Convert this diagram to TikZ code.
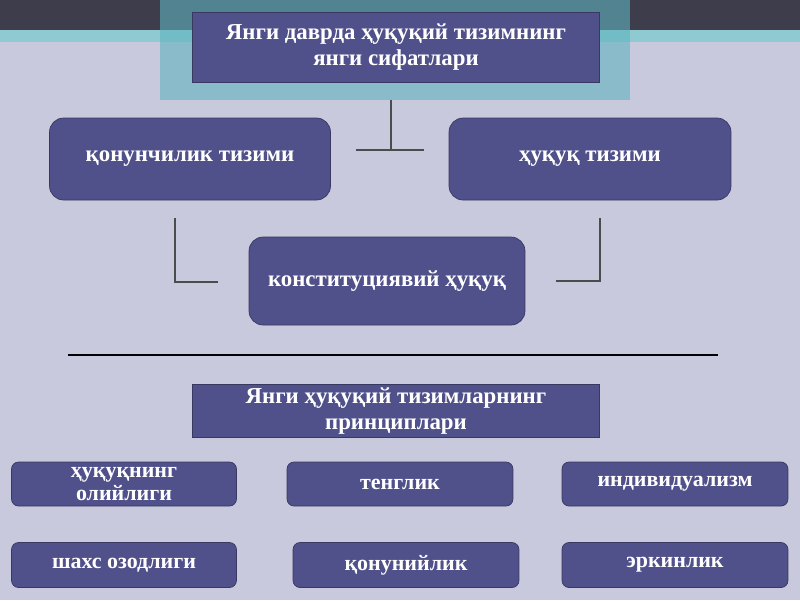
\documentclass[tikz,border=0pt]{standalone}
\usepackage{fontspec}
\setmainfont{Liberation Serif}
\usetikzlibrary{positioning}
\definecolor{boxfill}{HTML}{50508A}
\definecolor{bgfill}{HTML}{C9C9DD}
\definecolor{glowc}{HTML}{5FB3BE}
\definecolor{topband}{HTML}{3E3D4C}
\tikzset{
    block/.style={rectangle, draw=boxfill!70!black, fill=boxfill, text=white, font=\bfseries\fontsize{13}{14.5}\selectfont, align=center, inner sep=2pt},
    rblock/.style={block, rounded corners=8pt},
    small/.style={block, rounded corners=4pt, font=\bfseries\fontsize{12.5}{13}\selectfont},
    tick/.style={thick, draw=black!70}
}
\begin{document}
\begin{tikzpicture}[x=0.02cm, y=-0.02cm]
    \useasboundingbox (0,0) rectangle (800,600);
    \fill[bgfill] (0,0) rectangle (800,600);
    \fill[topband] (0,0) rectangle (800,30);
    \fill[glowc!70] (0,30) rectangle (800,42);
    \fill[glowc, opacity=0.6] (160,0) rectangle (630,100);

    % upper part
    \node[block, minimum width=8.14cm, minimum height=1.4cm] (quality) at (396,47) {Янги даврда ҳуқуқий тизимнинг\\янги сифатлари};
    \node[rblock, minimum width=5.62cm, minimum height=1.64cm] (legis) at (190,159) {қонунчилик тизими};
    \node[rblock, minimum width=5.64cm, minimum height=1.64cm] (lawsys) at (590,159) {ҳуқуқ тизими};
    \node[rblock, minimum width=5.52cm, minimum height=1.76cm] (const) at (387,281) {конституциявий ҳуқуқ};

    \draw[tick] (391,100) -- (391,150);
    \draw[tick] (356,150) -- (424,150);
    \draw[tick] (175,218) -- (175,282) -- (218,282);
    \draw[tick] (600,218) -- (600,281) -- (556,281);

    \draw[thick, black] (68,355) -- (718,355);

    % lower part
    \node[block, minimum width=8.14cm, minimum height=1.06cm] (princ) at (396,411) {Янги ҳуқуқий тизимларнинг\\принциплари};
    \node[small, minimum width=4.5cm, minimum height=0.88cm] (suprem) at (124,484) {ҳуқуқнинг\\олийлиги};
    \node[small, minimum width=4.52cm, minimum height=0.88cm] (equal) at (400,484) {тенглик};
    \node[small, minimum width=4.52cm, minimum height=0.88cm] (indiv) at (675,484) {индивидуализм};
    \node[small, minimum width=4.5cm, minimum height=0.9cm] (freedom) at (124,565) {шахс озодлиги};
    \node[small, minimum width=4.52cm, minimum height=0.9cm] (legal) at (406,565) {қонунийлик};
    \node[small, minimum width=4.52cm, minimum height=0.9cm] (liberty) at (675,565) {эркинлик};
\end{tikzpicture}
\end{document}
